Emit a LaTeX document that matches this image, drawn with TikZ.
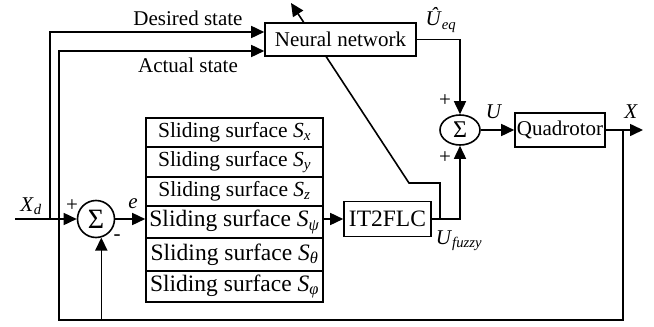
\documentclass[tikz,border=0pt]{standalone}
\usepackage{fontspec}
\setmainfont{Liberation Serif}
\usetikzlibrary{arrows.meta,shapes.geometric,calc}
\begin{document}
\begin{tikzpicture}[x=1pt,y=-1pt,
  line width=1.6pt,
  box/.style={draw,fill=white,inner sep=0pt,font=\fontsize{21}{21}\selectfont},
  ssa/.style={box,minimum width=177pt,font=\fontsize{21.5}{21.5}\selectfont},
  ssb/.style={box,minimum width=177pt,font=\fontsize{23.5}{23.5}\selectfont},
  arr/.style={-{Triangle[length=13pt,width=12pt]}},
  lbl/.style={inner sep=0pt,font=\fontsize{21}{21}\selectfont},
  sumc/.style={draw,circle,inner sep=0pt,minimum size=37pt,font=\fontsize{28}{28}\selectfont},
  sume/.style={draw,ellipse,inner sep=0pt,minimum width=40pt,minimum height=30pt,font=\fontsize{24}{24}\selectfont}
]
\useasboundingbox (0,0) rectangle (654,327);

% adaptation line through the neural network (drawn first, under the box)
\coordinate (d0) at (440,219);
\coordinate (d1) at (440,183);
\coordinate (d2) at (409,183);
\coordinate (d3) at (291,3);
\draw[arr] (d0) -- (d1) -- (d2) -- (d3);

% blocks
\node[box,minimum width=151pt,minimum height=33pt] (nn) at (340.5,39.5) {Neural network};
\node[sumc] (s1) at (96,219) {Σ};
\node[ssa,minimum height=29pt] (sx) at (234.5,132.5) {Sliding surface \textit{S}\textsubscript{\textit{x}}};
\node[ssa,minimum height=30pt] (sy) at (234.5,162) {Sliding surface \textit{S}\textsubscript{\textit{y}}};
\node[ssa,minimum height=29pt] (sz) at (234.5,191.5) {Sliding surface \textit{S}\textsubscript{\textit{z}}};
\node[ssb,minimum height=32pt] (spsi) at (234.5,222) {Sliding surface \textit{S}\textsubscript{\textit{ψ}}};
\node[ssb,minimum height=33pt] (sth) at (234.5,254.5) {Sliding surface \textit{S}\textsubscript{\textit{θ}}};
\node[ssb,minimum height=31pt] (sph) at (234.5,286.5) {Sliding surface \textit{S}\textsubscript{\textit{φ}}};
\node[box,minimum width=87pt,minimum height=35pt,font=\fontsize{23.5}{23.5}\selectfont] (it) at (387.5,219) {IT2FLC};
\node[sume] (s2) at (460,130) {Σ};
\node[box,minimum width=90pt,minimum height=34pt] (q) at (560,130) {Quadrotor};

% connectors
\coordinate (xin) at (15,219);
\coordinate (bx) at (50,219);
\coordinate (dtop) at (50,32);
\draw[arr] (xin) -- (s1.west);
\draw[arr] (bx) -- (dtop) -- (dtop -| nn.west);
\draw[arr] (s1.east) -- (s1.east -| spsi.west);
\draw[arr] (it.west -| spsi.east) -- (it.west);
\draw[arr] (it.east) -- (it.east -| s2.south) -- (s2.south);
\draw[arr] (nn.east) -- (nn.east -| s2.north) -- (s2.north);
\draw[arr] (s2.east) -- (q.west);
\coordinate (xout) at (643,130);
\draw[arr] (q.east) -- (xout);
\coordinate (br) at (623,130);
\coordinate (fb1) at (623,320);
\coordinate (fb2) at (59,320);
\coordinate (fb3) at (59,51);
\draw[arr] (br) -- (fb1) -- (fb2) -- (fb3) -- (fb3 -| nn.west);
\draw[arr] (s1.-74 |- fb1) -- (s1.-74);

% labels
\node[lbl] (ldes) at (188,18) {Desired state};
\node[lbl] (lact) at (188,65) {Actual state};
\node[lbl] (lxd) at (31,206) {\textit{X}\textsubscript{\textit{d}}};
\node[lbl] (lp1) at (72,206) {+};
\node[lbl] (le) at (133,204) {\textit{e}};
\node[lbl] (lm1) at (117,238) {-};
\node[lbl] (lueq) at (441,20) {\textit{Û}\textsubscript{\textit{eq}}};
\node[lbl] (lp2) at (445,101) {+};
\node[lbl] (lp3) at (445,158) {+};
\node[lbl] (lu) at (494,112) {\textit{U}};
\node[lbl] (lx) at (631,112) {\textit{X}};
\node[lbl] (luf) at (459,241) {\textit{U}\textsubscript{\textit{fuzzy}}};
\end{tikzpicture}
\end{document}
